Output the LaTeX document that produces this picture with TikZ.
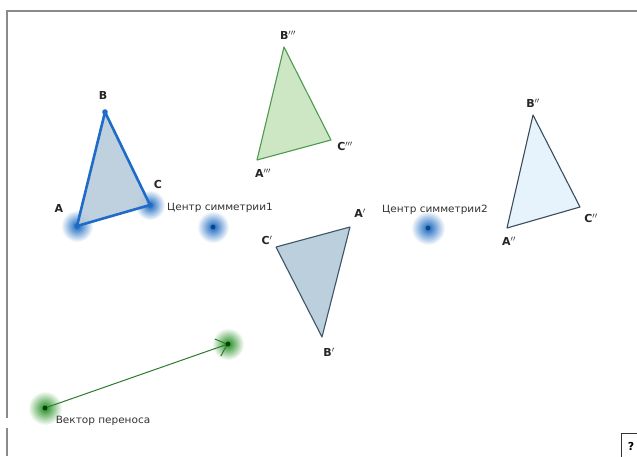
\documentclass[tikz,border=0pt]{standalone}
\usepackage{fontspec}
\setmainfont{DejaVu Sans}
\usetikzlibrary{arrows.meta}
\definecolor{framegray}{HTML}{8A8A8A}
\definecolor{haloblue}{HTML}{1565C0}
\definecolor{halogreen}{HTML}{1E8C1E}
\definecolor{abcfill}{HTML}{B9CCDB}
\definecolor{abcline}{HTML}{1F6CC8}
\definecolor{primefill}{HTML}{BBCFDD}
\definecolor{primeline}{HTML}{3D5566}
\definecolor{greenfill}{HTML}{CDE6C3}
\definecolor{greenline}{HTML}{4E9A4E}
\definecolor{lightfill}{HTML}{E6F3FC}
\definecolor{lightline}{HTML}{3C4C5C}
\definecolor{vecline}{HTML}{2E7A2E}
\tikzset{
  lbl/.style={font=\bfseries\fontsize{11}{12}\selectfont, text=black!85, inner sep=1pt},
  captext/.style={font=\fontsize{10}{11}\selectfont, text=black!80, inner sep=1pt, xscale=1.05},
  bhalo/.style={inner color=haloblue, outer color=white},
  ghalo/.style={inner color=halogreen, outer color=white},
}
\begin{document}
\begin{tikzpicture}[x=1pt,y=-1pt]
\useasboundingbox (0,0) rectangle (637,456);
\fill[white] (0,0) rectangle (637,456);
% frame
\draw[framegray, line width=2pt] (637,11) -- (7,11) -- (7,418);
\draw[framegray, line width=2pt] (7,428) -- (7,456);
% question box
\draw[black!80, line width=1pt, fill=white] (621,433) rectangle (640,460);
\node[font=\bfseries\fontsize{11}{11}\selectfont] (q) at (631,446) {?};

% points
\coordinate (A) at (77,226);
\coordinate (B) at (105,112);
\coordinate (C) at (150,205);
\coordinate (A1) at (350,227);
\coordinate (B1) at (322,337);
\coordinate (C1) at (276,247);
\coordinate (A2) at (507,228);
\coordinate (B2) at (533,115);
\coordinate (C2) at (580,207);
\coordinate (A3) at (257,160);
\coordinate (B3) at (284,47);
\coordinate (C3) at (331,140);
\coordinate (O1) at (213,227);
\coordinate (O2) at (428,228);
\coordinate (V1) at (45,408);
\coordinate (V2) at (228,344);

% halos
\shade[bhalo] (A) circle (16);
\shade[bhalo] (C) circle (15);
\shade[bhalo] (O1) circle (16);
\shade[bhalo] (O2) circle (17);
\shade[ghalo] (V1) circle (17);
\shade[ghalo] (V2) circle (16);

% triangles
\filldraw[fill=abcfill, draw=abcline, line width=2.6pt, line join=round, fill opacity=0.9] (A) -- (B) -- (C) -- cycle;
\fill[abcline] (A) circle (2.8) (B) circle (2.8) (C) circle (2.8);
\filldraw[fill=primefill, draw=primeline, line width=1.1pt, line join=round] (A1) -- (B1) -- (C1) -- cycle;
\filldraw[fill=lightfill, draw=lightline, line width=1.1pt, line join=round] (A2) -- (B2) -- (C2) -- cycle;
\filldraw[fill=greenfill, draw=greenline, line width=1.1pt, line join=round] (A3) -- (B3) -- (C3) -- cycle;

% centres
\fill[haloblue!70!black] (O1) circle (2.4);
\fill[haloblue!70!black] (O2) circle (2.4);

% vector
\draw[vecline, line width=1pt, -{Straight Barb[length=10pt,width=18pt,line width=1pt]}] (V1) -- (V2);
\fill[green!25!black] (V1) circle (2.4) (V2) circle (2.4);

% labels
\node[lbl] (lA) at (59,208) {A};
\node[lbl] (lB) at (103,95) {B};
\node[lbl] (lC) at (158,184) {C};
\node[lbl] (lA1) at (360,213) {A$'$};
\node[lbl] (lB1) at (329,352) {B$'$};
\node[lbl] (lC1) at (267,240) {C$'$};
\node[lbl] (lA2) at (509,241) {A$''$};
\node[lbl] (lB2) at (533,103) {B$''$};
\node[lbl] (lC2) at (591,218) {C$''$};
\node[lbl] (lA3) at (263,173) {A$'''$};
\node[lbl] (lB3) at (288,35) {B$'''$};
\node[lbl] (lC3) at (345,146) {C$'''$};
\node[captext] (t1) at (220,208) {Центр симметрии1};
\node[captext] (t2) at (435,210) {Центр симметрии2};
\node[captext] (t3) at (103,421) {Вектор переноса};
\end{tikzpicture}
\end{document}
